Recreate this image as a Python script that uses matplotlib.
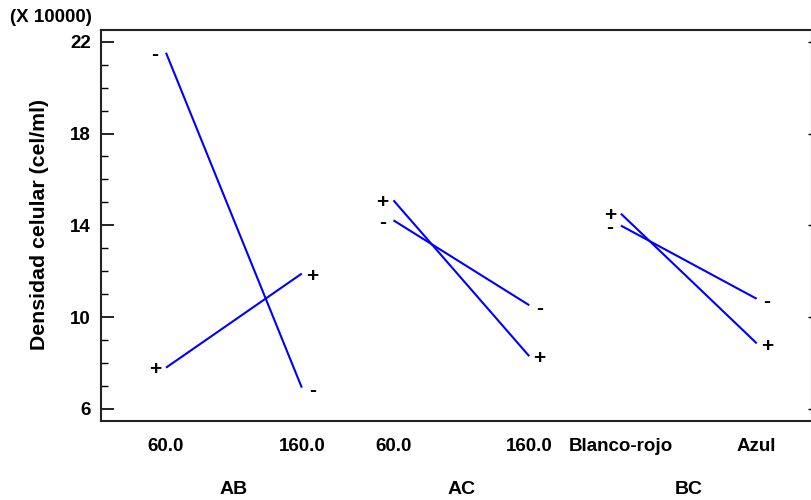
import matplotlib
matplotlib.use("Agg")
import matplotlib.pyplot as plt
from matplotlib.ticker import MultipleLocator
from matplotlib.transforms import blended_transform_factory

plt.rcParams['font.family'] = ['Liberation Sans', 'DejaVu Sans']
plt.rcParams['font.weight'] = 'bold'

# Data
groups = ["AB", "AC", "BC"]
level_labels = [["60.0", "160.0"], ["60.0", "160.0"], ["Blanco-rojo", "Azul"]]
minus_vals = [[21.52, 6.93], [14.22, 10.52], [13.99, 10.80]]
plus_vals = [[7.80, 11.90], [15.09, 8.30], [14.51, 8.86]]
y_ticks = [6, 10, 14, 18, 22]

group_offset = 1.675
fig = plt.figure(figsize=(8.12, 5.0), dpi=100)
ax = fig.add_axes([100.7 / 812, 1 - 420.7 / 500, 711 / 812, (420.7 - 30) / 500])

blue = "#0000ff"
xticks, xlabels = [], []
for g in range(3):
    xs = [g * group_offset, g * group_offset + 1]
    xticks += xs
    xlabels += level_labels[g]
    for vals, sign in ((minus_vals[g], "-"), (plus_vals[g], "+")):
        ax.plot(xs, vals, color=blue, lw=1.5, solid_capstyle='butt')
        ax.annotate(sign, (xs[0], vals[0]), xytext=(-8, -1.5), textcoords='offset points',
                    ha='center', va='center', fontsize=15, fontweight='bold')
        ax.annotate(sign, (xs[1], vals[1]), xytext=(7.5, -2), textcoords='offset points',
                    ha='center', va='center', fontsize=15, fontweight='bold')

ax.set_xlim(-0.481, 2 * group_offset + 1 + 0.405)
ax.set_ylim(5.49, 22.51)
ax.set_yticks(y_ticks)
ax.set_yticklabels([str(v) for v in y_ticks])
ax.yaxis.set_minor_locator(MultipleLocator(1))
ax.set_xticks(xticks)
ax.set_xticklabels(xlabels)
ax.tick_params(axis='y', which='major', direction='in', length=9.5, width=1.2, pad=7, labelsize=13.5)
ax.tick_params(axis='y', which='minor', direction='in', length=5, width=1.0)
ax.tick_params(axis='x', which='both', length=0, pad=12.5, labelsize=13.5)
for lab in ax.get_xticklabels() + ax.get_yticklabels():
    lab.set_fontweight('bold')
for s in ax.spines.values():
    s.set_linewidth(1.5)
    s.set_color('#222222')

sec = ax.secondary_yaxis('right')
sec.set_yticks(y_ticks)
sec.tick_params(direction='in', length=3, width=1.0, labelright=False)
sec.set_yticklabels([])

trans = blended_transform_factory(ax.transData, fig.transFigure)
for g in range(3):
    ax.text(g * group_offset + 0.5, 1 - 490 / 500, groups[g], transform=trans,
            ha='center', va='center', fontsize=14, fontweight='bold')

fig.text(51 / 812, 1 - 18 / 500, "(X 10000)", ha='center', va='center', fontsize=13.5, fontweight='bold')
fig.text(40 / 812, 1 - 225 / 500, "Densidad celular (cel/ml)", rotation=90,
         ha='center', va='center', fontsize=15.3, fontweight='bold')

fig.savefig("out.png", dpi=100)
